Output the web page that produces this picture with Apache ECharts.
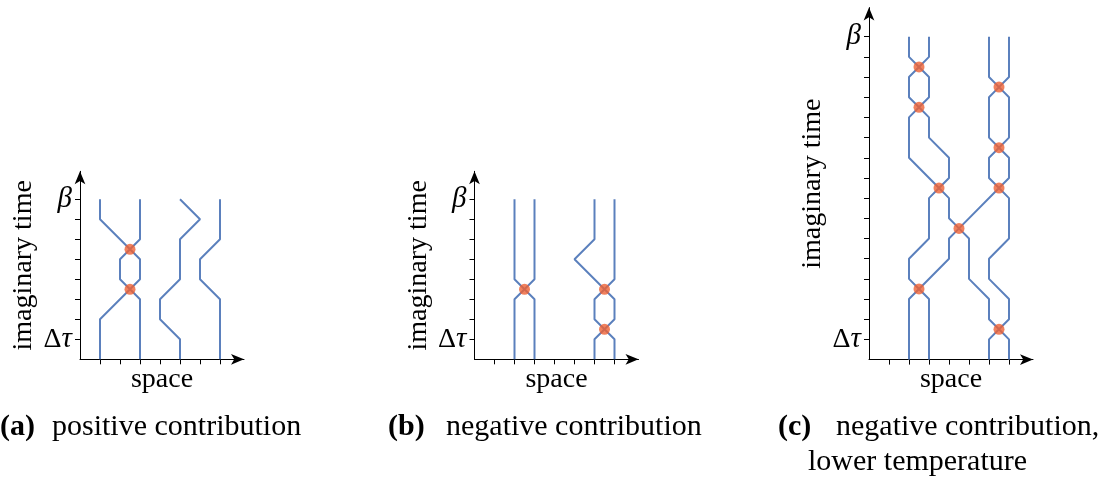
<!DOCTYPE html>
<html>
<head>
<meta charset="utf-8">
<script src="https://cdn.jsdelivr.net/npm/echarts@6/dist/echarts.min.js"></script>
<style>
html,body{margin:0;padding:0;background:#fff;}
#chart{width:1105px;height:487px;}
</style>
</head>
<body>
<div id="chart"></div>
<script>
// ---------- data ----------
const xTicks = [1, 2, 3, 4, 5, 6, 7];
const yTicksAB = [1, 2, 3, 4, 5, 6, 7, 8];
const yTicksC = [1, 2, 3, 4, 5, 6, 7, 8, 9, 10, 11, 12, 13, 14, 15, 16];
const yLabelBottom = 1;      // Δτ
const yLabelTopAB = 8;       // β
const yLabelTopC = 16;       // β
const xAxisName = 'space';
const yAxisName = 'imaginary time';

// panel (a) worldlines
const pathsA = [
  [[1,0],[1,2],[2.5,3.5],[2,4],[2,5],[2.5,5.5],[1,7],[1,8]],
  [[3,0],[3,3],[2.5,3.5],[3,4],[3,5],[2.5,5.5],[3,6],[3,8]],
  [[5,0],[5,1],[4,2],[4,3],[5,4],[5,6],[6,7],[5,8]],
  [[7,0],[7,3],[6,4],[6,5],[7,6],[7,8]]
];
const dotsA = [[2.5,3.5],[2.5,5.5]];

// panel (b) worldlines
const pathsB = [
  [[2,0],[2,3],[2.5,3.5],[2,4],[2,8]],
  [[3,0],[3,3],[2.5,3.5],[3,4],[3,8]],
  [[6,0],[6,1],[6.5,1.5],[6,2],[6,3],[6.5,3.5],[5,5],[6,6],[6,8]],
  [[7,0],[7,1],[6.5,1.5],[7,2],[7,3],[6.5,3.5],[7,4],[7,8]]
];
const dotsB = [[2.5,3.5],[6.5,1.5],[6.5,3.5]];

// panel (c) worldlines
const pathsC = [
  [[2,0],[2,3],[2.5,3.5],[2,4],[2,5],[3,6],[3,8],[3.5,8.5],[2,10],[2,12],[2.5,12.5],[2,13],[2,14],[2.5,14.5],[2,15],[2,16]],
  [[3,0],[3,3],[2.5,3.5],[4,5],[4,6],[4.5,6.5],[4,7],[4,8],[3.5,8.5],[4,9],[4,10],[3,11],[3,12],[2.5,12.5],[3,13],[3,14],[2.5,14.5],[3,15],[3,16]],
  [[6,0],[6,1],[6.5,1.5],[6,2],[6,3],[5,4],[5,6],[4.5,6.5],[6.5,8.5],[6,9],[6,10],[6.5,10.5],[6,11],[6,13],[6.5,13.5],[6,14],[6,16]],
  [[7,0],[7,1],[6.5,1.5],[7,2],[7,3],[6,4],[6,5],[7,6],[7,8],[6.5,8.5],[7,9],[7,10],[6.5,10.5],[7,11],[7,13],[6.5,13.5],[7,14],[7,16]]
];
const dotsC = [[2.5,3.5],[4.5,6.5],[3.5,8.5],[2.5,12.5],[2.5,14.5],[6.5,1.5],[6.5,8.5],[6.5,10.5],[6.5,13.5]];

const captionTags = ['(a)', '(b)', '(c)'];
const captionTexts = ['positive contribution', 'negative contribution', 'negative contribution,'];
const captionExtra = 'lower temperature';

// ---------- styling ----------
const FONT = '"Liberation Serif", "Times New Roman", serif';
const lineColor = '#5b80bd';
const dotColor = '#ee6235';

const grids = [
  { left: 80,    top: 171.3, width: 164, height: 188 },
  { left: 474.5, top: 171.3, width: 164, height: 188 },
  { left: 869,   top: 7.6,   width: 164, height: 352 }
];
const yMax = [9.4, 9.4, 17.44];
const yTicksList = [yTicksAB, yTicksAB, yTicksC];
const yTopLabel = [yLabelTopAB, yLabelTopAB, yLabelTopC];

function xAxisFor(i) {
  return {
    gridIndex: i, type: 'value', min: 0, max: 8.2, interval: 1,
    axisLine: { show: true, symbol: ['none', 'arrow'], symbolSize: [8, 13],
      lineStyle: { color: '#000', width: 1 } },
    axisTick: { show: true, customValues: xTicks, length: 5, lineStyle: { color: '#000', width: 1 } },
    axisLabel: { show: false },
    splitLine: { show: false },
    name: xAxisName, nameLocation: 'middle', nameGap: 6,
    nameTextStyle: { fontFamily: FONT, fontSize: 28, color: '#000' }
  };
}
function yAxisFor(i) {
  const top = yTopLabel[i];
  return {
    gridIndex: i, type: 'value', min: 0, max: yMax[i], interval: 1,
    axisLine: { show: true, symbol: ['none', 'arrow'], symbolSize: [8, 13],
      lineStyle: { color: '#000', width: 1 } },
    axisTick: { show: true, customValues: yTicksList[i], length: 5, lineStyle: { color: '#000', width: 1 } },
    axisLabel: {
      show: true, customValues: [yLabelBottom, top], margin: 8,
      formatter: function (v) {
        return v === yLabelBottom ? '{u|Δ}{it|τ}' : '{it|β}';
      },
      rich: {
        u: { fontFamily: FONT, fontSize: 28, color: '#000' },
        it: { fontFamily: FONT, fontSize: 29, fontStyle: 'italic', color: '#000' }
      }
    },
    splitLine: { show: false },
    name: yAxisName, nameLocation: 'middle', nameRotate: 90, nameGap: 42,
    nameTextStyle: { fontFamily: FONT, fontSize: 28, color: '#000' }
  };
}

const series = [];
[pathsA, pathsB, pathsC].forEach(function (paths, gi) {
  paths.forEach(function (p) {
    series.push({
      type: 'line', xAxisIndex: gi, yAxisIndex: gi, data: p,
      symbol: 'none', showSymbol: false, silent: true, z: 3,
      lineStyle: { color: lineColor, width: 2 }
    });
  });
});
[dotsA, dotsB, dotsC].forEach(function (d, gi) {
  series.push({
    type: 'scatter', xAxisIndex: gi, yAxisIndex: gi, data: d,
    symbolSize: 11, silent: true, z: 4,
    itemStyle: { color: dotColor }
  });
});

const tagX = [0, 388, 778];
const textX = [52, 446, 836];
const capY = 427.5;
const graphic = [];
captionTags.forEach(function (tag, i) {
  graphic.push({
    type: 'text', x: tagX[i], y: capY,
    style: { text: tag, font: 'bold 30px ' + FONT, fill: '#000', align: 'left', verticalAlign: 'middle' }
  });
  graphic.push({
    type: 'text', x: textX[i], y: capY,
    style: { text: captionTexts[i], font: '30px ' + FONT, fill: '#000', align: 'left', verticalAlign: 'middle' }
  });
});
graphic.push({
  type: 'text', x: 808, y: capY + 35,
  style: { text: captionExtra, font: '30px ' + FONT, fill: '#000', align: 'left', verticalAlign: 'middle' }
});

const chart = echarts.init(document.getElementById('chart'), null, { renderer: 'canvas' });
chart.setOption({
  animation: false,
  backgroundColor: '#fff',
  grid: grids,
  xAxis: [0, 1, 2].map(xAxisFor),
  yAxis: [0, 1, 2].map(yAxisFor),
  series: series,
  graphic: graphic
});
</script>
</body>
</html>
